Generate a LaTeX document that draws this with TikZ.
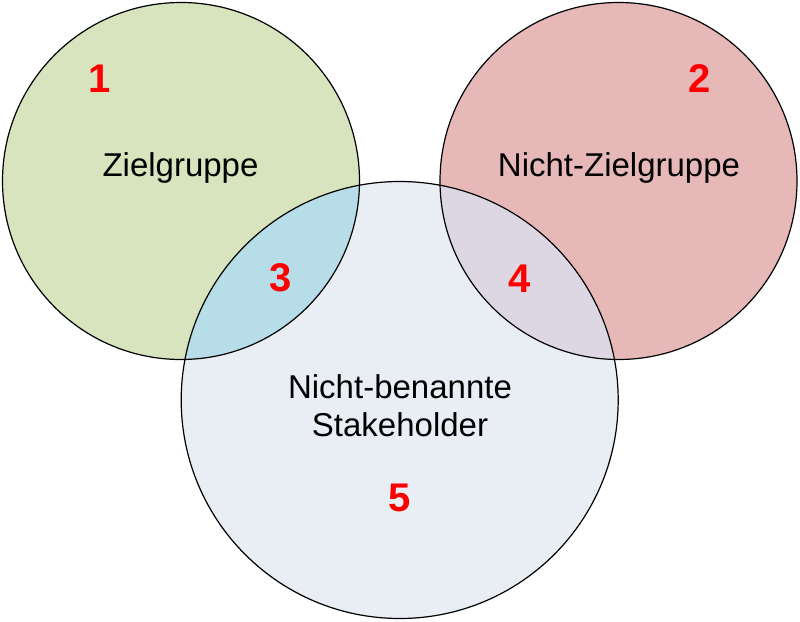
\documentclass[tikz,border=0pt]{standalone}
\usepackage{fontspec}
\setmainfont{Liberation Sans}
\definecolor{cgreen}{RGB}{215,228,189}
\definecolor{cred}{RGB}{230,185,184}
\definecolor{cblue}{RGB}{233,237,244}
\definecolor{lensA}{RGB}{183,221,232}
\definecolor{lensB}{RGB}{221,215,228}
\definecolor{numred}{RGB}{255,0,0}
\tikzset{
  outline/.style={draw=black, line width=1.2pt},
  label/.style={font=\fontsize{33}{38.4}\selectfont, text=black, anchor=base, inner sep=0pt},
  num/.style={font=\fontsize{40}{44}\selectfont\bfseries, text=numred, anchor=base, inner sep=0pt}
}
\begin{document}
\begin{tikzpicture}[x=1pt,y=-1pt]
\useasboundingbox (0,0) rectangle (800,621);
\coordinate (cA) at (181,181);
\coordinate (cB) at (618.5,181);
\coordinate (cC) at (399.7,400);
\def\rA{178.5}
\def\rC{218.5}
% base fills
\fill[cgreen] (cA) circle (\rA);
\fill[cred] (cB) circle (\rA);
\fill[cblue] (cC) circle (\rC);
% lens fills
\begin{scope}
  \clip (cA) circle (\rA);
  \fill[lensA] (cC) circle (\rC);
\end{scope}
\begin{scope}
  \clip (cB) circle (\rA);
  \fill[lensB] (cC) circle (\rC);
\end{scope}
% outlines
\draw[outline] (cA) circle (\rA);
\draw[outline] (cB) circle (\rA);
\draw[outline] (cC) circle (\rC);
% labels
\node[label] (t1) at (180.5,176) {Zielgruppe};
\node[label] (t2) at (619,176.7) {Nicht-Zielgruppe};
\node[label] (t3) at (400,398.3) {Nicht-benannte};
\node[label] (t4) at (400,436.7) {Stakeholder};
% numbers
\node[num] (n1) at (100,92.5) {1};
\node[num] (n2) at (700,92.5) {2};
\node[num] (n3) at (280.5,291) {3};
\node[num] (n4) at (520,292) {4};
\node[num] (n5) at (400,511) {5};
\end{tikzpicture}
\end{document}
